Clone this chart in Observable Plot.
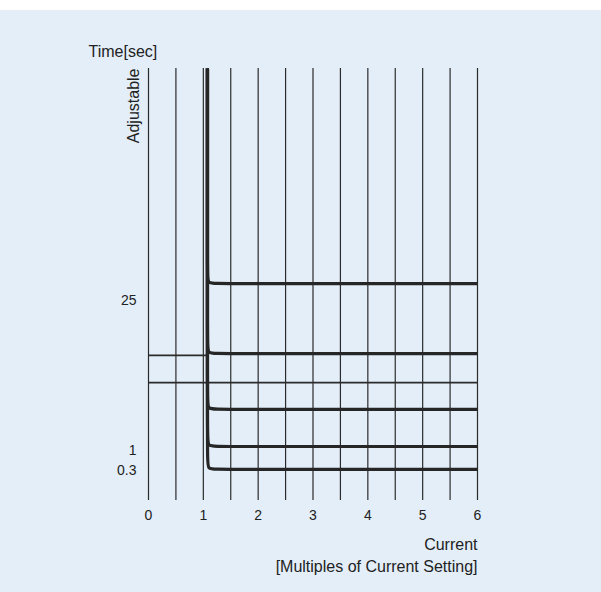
<!DOCTYPE html>
<html>
<head>
<meta charset="utf-8">
<script src="https://cdn.jsdelivr.net/npm/d3@7"></script>
<script src="https://cdn.jsdelivr.net/npm/@observablehq/plot@0.6"></script>
<style>
  html, body { margin: 0; padding: 0; background: #ffffff; }
  #chart { width: 601px; height: 592px; background: linear-gradient(#ffffff 0px, #ffffff 10px, #e3eef8 10px); }
  #chart svg { display: block; }
</style>
</head>
<body>
<div id="chart"></div>
<script>
// ---- data (schematic definite-time characteristic) ----
const xTickValues = [0, 1, 2, 3, 4, 5, 6];
const xGridValues = [0, 0.5, 1, 1.5, 2, 2.5, 3, 3.5, 4, 4.5, 5, 5.5, 6];
const pickupMultiple = 1.075;               // thick pickup line, just right of 1
const maxMultiple = 6;
// schematic time-setting levels (chart units, 0 = bottom, 100 = top)
const curveLevels = [50.2, 34.0, 21.1, 12.5, 7.2];
const thinLineLevels = [33.6, 27.3];
const thinLineEnds = [pickupMultiple, 6];
const yTickValues = [46.3, 11.6, 6.9];
const yTickLabels = ["25", "1", "0.3"];
const yTop = 100;

// ---- build curve paths from the data ----
const rx = 0.18, ry = 2.2;
const curvePts = [];
curveLevels.forEach((L, i) => {
  curvePts.push({x: pickupMultiple, y: yTop, k: i});
  curvePts.push({x: pickupMultiple, y: L + ry, k: i});
  curvePts.push({x: pickupMultiple, y: L, k: i});
  curvePts.push({x: pickupMultiple + rx, y: L, k: i});
  curvePts.push({x: maxMultiple, y: L, k: i});
});
const thinLines = thinLineLevels.map((L, i) => ({x1: 0, x2: thinLineEnds[i], y: L}));

const font = "'Liberation Sans', Arial, Helvetica, sans-serif";

const chart = Plot.plot({
  width: 601,
  height: 592,
  marginLeft: 148,
  marginRight: 124,
  marginTop: 68,
  marginBottom: 92,
  style: {fontFamily: font, fontSize: "14px", color: "#222", background: "transparent"},
  x: {domain: [0, 6]},
  y: {domain: [0, yTop]},
  marks: [
    Plot.ruleX(xGridValues, {stroke: "#2b2b2b", strokeWidth: 1.2}),
    Plot.ruleY(thinLines, {x1: "x1", x2: "x2", y: "y", stroke: "#2b2b2b", strokeWidth: 1.8}),
    Plot.line(curvePts, {x: "x", y: "y", z: "k", curve: "basis", stroke: "#262626", strokeWidth: 3.2, strokeLinecap: "butt"}),
    Plot.axisX({ticks: xTickValues, tickFormat: (d) => String(d), tickSize: 0, tickPadding: 10, label: null, fontSize: 14}),
    Plot.axisY({ticks: yTickValues, tickFormat: (d) => yTickLabels[yTickValues.indexOf(d)], tickSize: 0, tickPadding: 12, label: null, fontSize: 14}),
    Plot.text(["Time[sec]"], {frameAnchor: "top-left", text: (d) => d, textAnchor: "start", dx: -60, dy: -23, fontSize: 16, fill: "#222"}),
    Plot.text(["Adjustable"], {frameAnchor: "top-left", text: (d) => d, textAnchor: "end", rotate: -90, dx: -21, fontSize: 16, fill: "#222"}),
    Plot.text(["Current"], {frameAnchor: "bottom-right", text: (d) => d, textAnchor: "end", dy: 49, fontSize: 16, fill: "#222"}),
    Plot.text(["[Multiples of Current Setting]"], {frameAnchor: "bottom-right", text: (d) => d, textAnchor: "end", dy: 71, fontSize: 16, fill: "#222"})
  ]
});
document.getElementById("chart").appendChild(chart);
</script>
</body>
</html>
